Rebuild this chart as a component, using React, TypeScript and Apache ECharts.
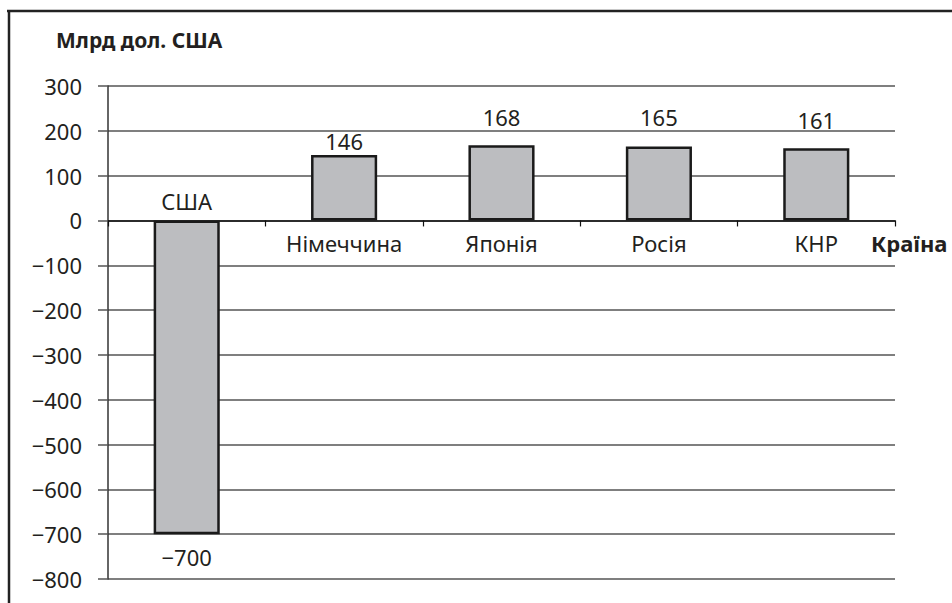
import React, { useEffect, useRef } from "react";
import * as echarts from "echarts";

const categories = ["США", "Німеччина", "Японія", "Росія", "КНР"];
const values = [-700, 146, 168, 165, 161];
const valueLabelDistances = [12, 3, 17, 19, 17];
const yMin = -800;
const yMax = 300;
const yStep = 100;
const titleText = "Млрд дол. США";
const xName = "Країна";

const FONT = "'Noto Sans', 'Open Sans', sans-serif";
const TXT = "#231f20";
const fmt = (v: number) => (v < 0 ? "\u2212" + Math.abs(v) : String(v));

export default function App() {
  const ref = useRef<HTMLDivElement>(null);
  useEffect(() => {
    if (!ref.current) return;
    const chart = echarts.init(ref.current, null, { renderer: "svg" });
    chart.setOption({
      animation: false,
      backgroundColor: "#ffffff",
      textStyle: { fontFamily: FONT, color: TXT },
      title: {
        text: titleText,
        left: 51,
        top: 24,
        textStyle: { fontFamily: FONT, fontSize: 21, fontWeight: "bold", color: TXT },
      },
      grid: { left: 108, right: 57, top: 86, bottom: 24, containLabel: false, outerBoundsMode: "none" },
      xAxis: {
        type: "category",
        data: categories,
        axisLine: { onZero: true, lineStyle: { color: "#111", width: 1.5 } },
        axisTick: { show: true, length: 6, lineStyle: { color: "#111", width: 1.2 } },
        axisLabel: { show: false },
        splitLine: { show: false },
      },
      yAxis: {
        type: "value",
        min: yMin,
        max: yMax,
        interval: yStep,
        axisLine: { show: true, lineStyle: { color: "#333", width: 1.5 } },
        axisTick: { show: true, length: 10, lineStyle: { color: "#555", width: 1.5 } },
        axisLabel: {
          fontFamily: FONT,
          fontSize: 22,
          color: TXT,
          margin: 26,
          formatter: (v: number) => fmt(v),
        },
        splitLine: { show: true, lineStyle: { color: "#555", width: 1.5 } },
      },
      series: [
        {
          type: "bar",
          barWidth: "42%",
          data: values.map((v, i) => ({
            value: v,
            label: {
              show: true,
              position: v < 0 ? "bottom" : "top",
              distance: valueLabelDistances[i],
              formatter: () => fmt(v),
            },
          })),
          itemStyle: { color: "#bcbdc0", borderColor: "#1a1a1a", borderWidth: 2.5 },
          label: { fontFamily: FONT, fontSize: 22, color: TXT },
        },
        {
          type: "scatter",
          symbolSize: 0,
          silent: true,
          itemStyle: { opacity: 1 },
          data: categories.map((c, i) => ({
            value: [c, 0],
            label: {
              show: true,
              position: values[i] < 0 ? "top" : "bottom",
              distance: values[i] < 0 ? 8 : 12,
              formatter: () => c,
            },
          })),
          label: { fontFamily: FONT, fontSize: 22, color: TXT },
        },
      ],
      graphic: [
        { type: "line", shape: { x1: 7, y1: 11, x2: 952, y2: 11 }, style: { stroke: "#222", lineWidth: 2.5 } },
        { type: "line", shape: { x1: 9, y1: 10, x2: 9, y2: 603 }, style: { stroke: "#222", lineWidth: 2.5 } },
        {
          type: "text",
          x: 871,
          y: 243,
          style: {
            text: xName,
            fontFamily: FONT,
            fontSize: 22,
            fontWeight: "bold",
            fill: TXT,
            verticalAlign: "middle",
            align: "left",
          },
        },
      ],
    });
    return () => chart.dispose();
  }, []);
  return (
    <div
      ref={ref}
      style={{ position: "fixed", left: 0, top: 0, width: 952, height: 603 }}
    />
  );
}
